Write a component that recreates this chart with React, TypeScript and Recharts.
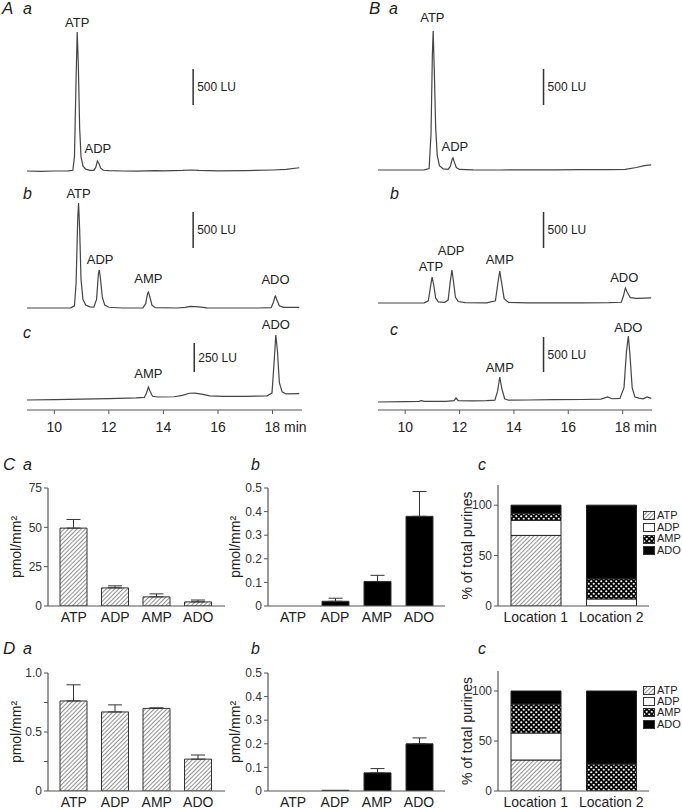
import React from 'react';
import { LineChart, Line, XAxis, YAxis, ReferenceLine, ReferenceDot, BarChart, Bar, ErrorBar } from 'recharts';

const FONT = '"Liberation Sans", Arial, sans-serif';
const INK = '#222';
const AXIS = '#555';

// chromatogram traces: [time (min), fluorescence (LU above baseline)]
const traceAa = [[9.0, 0], [9.5, -5], [10.0, 0], [10.5, 3], [10.68, 10], [10.74, 200], [10.8, 1300], [10.84, 1930], [10.88, 1500], [10.93, 600], [10.98, 200], [11.05, 70], [11.15, 25], [11.3, 10], [11.45, 8], [11.52, 50], [11.58, 139], [11.64, 100], [11.7, 40], [11.8, 10], [12.0, 5], [12.5, 0], [13.0, -3], [13.7, 5], [14.0, 2], [14.7, 8], [15.0, 14], [15.3, 8], [16.0, 3], [17.0, 6], [18.0, 14], [18.5, 22], [18.98, 45]];
const traceAb = [[9.0, 0], [10.0, 0], [10.6, 3], [10.74, 30], [10.8, 350], [10.86, 1250], [10.89, 1458], [10.93, 1100], [10.98, 400], [11.05, 120], [11.15, 40], [11.3, 15], [11.45, 12], [11.55, 120], [11.62, 480], [11.65, 528], [11.69, 420], [11.76, 150], [11.85, 40], [12.0, 10], [12.5, 0], [13.25, 2], [13.35, 60], [13.42, 200], [13.45, 222], [13.5, 160], [13.58, 40], [13.7, 5], [14.5, 0], [14.8, 10], [15.0, 22], [15.3, 15], [15.6, 3], [16.5, 0], [17.5, 0], [17.95, 5], [18.03, 80], [18.09, 160], [18.11, 167], [18.16, 110], [18.25, 30], [18.4, 8], [18.98, 10]];
const traceAc = [[9.0, 0], [10.0, 3], [11.0, 8], [12.0, 12], [13.0, 18], [13.3, 22], [13.38, 60], [13.45, 112], [13.52, 70], [13.6, 32], [13.8, 26], [14.4, 28], [14.7, 40], [14.95, 58], [15.15, 60], [15.4, 50], [15.7, 36], [16.2, 32], [17.0, 32], [17.8, 36], [17.98, 60], [18.05, 300], [18.12, 560], [18.18, 420], [18.25, 150], [18.35, 70], [18.5, 52], [18.98, 55]];
const traceBa = [[9.0, 0], [10.0, 0], [10.7, 3], [10.88, 20], [10.95, 500], [11.0, 1600], [11.03, 1930], [11.07, 1400], [11.12, 600], [11.18, 200], [11.26, 60], [11.4, 15], [11.58, 8], [11.66, 50], [11.73, 150], [11.76, 167], [11.8, 120], [11.88, 35], [12.0, 8], [12.5, 2], [13.5, 0], [14.5, 3], [15.5, 3], [16.5, 4], [17.5, 5], [18.1, 8], [18.5, 35], [18.8, 60], [19.05, 70]];
const traceBb = [[9.0, 0], [10.0, 0], [10.7, 3], [10.85, 30], [10.93, 220], [10.99, 361], [11.05, 250], [11.12, 70], [11.22, 15], [11.45, 10], [11.58, 40], [11.66, 300], [11.72, 458], [11.77, 320], [11.85, 80], [11.95, 20], [12.2, 5], [13.0, 3], [13.32, 30], [13.42, 300], [13.48, 444], [13.54, 300], [13.64, 60], [13.8, 8], [14.5, 3], [15.5, 3], [16.5, 3], [17.5, 5], [17.95, 10], [18.03, 100], [18.1, 208], [18.17, 150], [18.28, 75], [18.5, 65], [18.8, 68], [19.05, 70]];
const traceBc = [[9.0, 0], [10.0, 5], [10.5, 8], [10.6, 20], [10.7, 8], [11.5, 10], [11.8, 18], [11.87, 55], [11.95, 18], [12.5, 15], [13.0, 18], [13.3, 25], [13.4, 150], [13.48, 347], [13.56, 180], [13.66, 45], [13.8, 25], [14.5, 28], [15.5, 32], [16.5, 35], [17.2, 40], [17.45, 70], [17.6, 45], [17.9, 50], [18.05, 200], [18.14, 700], [18.21, 917], [18.27, 650], [18.35, 200], [18.45, 70], [18.6, 55], [18.75, 45], [18.9, 70], [19.05, 50]];

const timeTicks = [10, 12, 14, 16, 18];

// peak labels: [name, time, label height in LU]
const peaksAa = [['ATP', 10.84, 2069], ['ADP', 11.6, 319]];
const peaksAb = [['ATP', 10.89, 1597], ['ADP', 11.68, 681], ['AMP', 13.45, 417], ['ADO', 18.11, 403]];
const peaksAc = [['AMP', 13.45, 233], ['ADO', 18.12, 655]];
const peaksBa = [['ATP', 11.0, 2125], ['ADP', 11.83, 333]];
const peaksBb = [['ATP', 10.95, 514], ['ADP', 11.69, 736], ['AMP', 13.48, 611], ['ADO', 18.06, 361]];
const peaksBc = [['AMP', 13.48, 486], ['ADO', 18.21, 1042]];

// scale bars: [time, from LU, to LU, label]
const barAa = [15.09, 917, 1417, '500 LU'];
const barAb = [15.09, 833, 1333, '500 LU'];
const barAc = [15.13, 241, 491, '250 LU'];
const barBa = [15.09, 903, 1403, '500 LU'];
const barBb = [15.09, 764, 1264, '500 LU'];
const barBc = [15.09, 417, 903, '500 LU'];

// bar charts
const purines = ['ATP', 'ADP', 'AMP', 'ADO'];
const caValues = [49.5, 11.5, 5.8, 2.6];
const caErrors = [5.5, 1.3, 1.9, 1.2];
const cbValues = [0, 0.02, 0.104, 0.38];
const cbErrors = [null, 0.013, 0.026, 0.105];
const daValues = [0.763, 0.67, 0.70, 0.27];
const daErrors = [0.137, 0.06, 0.005, 0.035];
const dbValues = [0, 0.003, 0.077, 0.2];
const dbErrors = [null, null, 0.018, 0.025];

const locations = ['Location 1', 'Location 2'];
const ccATP = [70, 0];
const ccADP = [15, 7];
const ccAMP = [7, 20];
const ccADO = [8, 73];
const dcATP = [31, 0];
const dcADP = [27, 0];
const dcAMP = [29, 27];
const dcADO = [13, 73];

const purineFills = ['url(#hatch)', '#fff', 'url(#dots)', '#000'];

const TimeTick = (props: any) => {
  const { x, y, payload } = props;
  const last = payload.value === 18;
  return (
    <text x={last ? x - 8 : x} y={y + 16} textAnchor={last ? 'start' : 'middle'} fontSize={14} fill={INK}>
      {last ? '18 min' : payload.value}
    </text>
  );
};

function Trace({ data, peaks, bar, left, top, height, ml, mr, baseY, scale, axis }: any) {
  const axisH = axis ? 30 : 0;
  const plotH = height - axisH;
  const lo = -(top + plotH - baseY) / scale;
  const hi = lo + plotH / scale;
  const rows = data.map(([t, v]: number[]) => ({ t, v }));
  return (
    <div style={{ position: 'absolute', left, top }}>
      <LineChart width={341} height={height} data={rows} margin={{ top: 0, right: mr, bottom: 0, left: ml }}>
        <XAxis
          dataKey="t"
          type="number"
          domain={[9, 19.08]}
          allowDataOverflow
          ticks={timeTicks}
          interval={0}
          hide={!axis}
          height={axisH}
          tick={<TimeTick />}
          tickSize={4}
          axisLine={{ stroke: AXIS, strokeWidth: 1.2 }}
          tickLine={{ stroke: AXIS }}
        />
        <YAxis hide domain={[lo, hi]} allowDataOverflow />
        <Line type="linear" dataKey="v" stroke="#444" strokeWidth={1.2} dot={false} isAnimationActive={false} />
        <ReferenceLine
          segment={[{ x: bar[0], y: bar[1] }, { x: bar[0], y: bar[2] }]}
          stroke="#333"
          strokeWidth={1.5}
          ifOverflow="visible"
        />
        <ReferenceDot
          x={bar[0]}
          y={(bar[1] + bar[2]) / 2}
          r={0}
          fill="none"
          stroke="none"
          ifOverflow="visible"
          label={{ value: bar[3], position: 'right', offset: 4, fontSize: 12, fill: INK }}
        />
        {peaks.map((p: any) => (
          <ReferenceDot
            key={p[0]}
            x={p[1]}
            y={p[2]}
            r={0}
            fill="none"
            stroke="none"
            ifOverflow="visible"
            label={{ value: p[0], position: 'center', fontSize: 13, fill: INK }}
          />
        ))}
      </LineChart>
    </div>
  );
}

function PurineBars({ left, top, values, errors, fill, domain, ticks, fmt, labelX, padL, padR }: any) {
  const rows = purines.map((c, i) => ({ c, v: values[i], e: errors[i] == null ? null : [0, errors[i]] }));
  return (
    <div style={{ position: 'absolute', left, top }}>
      <BarChart width={235} height={158} data={rows} margin={{ top: 10, right: 10, bottom: 0, left: 0 }}>
        <XAxis
          dataKey="c"
          tickLine={false}
          axisLine={{ stroke: AXIS, strokeWidth: 1.2 }}
          tick={{ fontSize: 14, fill: INK }}
          tickSize={4}
          padding={{ left: padL, right: padR }}
          height={30}
          interval={0}
        />
        <YAxis
          width={48}
          domain={domain}
          ticks={ticks}
          interval={0}
          allowDataOverflow
          tickFormatter={fmt}
          tick={{ fontSize: 12, fill: '#333' }}
          tickSize={4}
          axisLine={{ stroke: AXIS, strokeWidth: 1.2 }}
          tickLine={{ stroke: AXIS }}
          label={{ value: 'pmol/mm²', angle: -90, position: 'insideLeft', offset: labelX, fontSize: 14, fill: INK, style: { textAnchor: 'middle' } }}
        />
        <Bar dataKey="v" fill={fill} stroke="#333" strokeWidth={1} barSize={27} isAnimationActive={false}>
          <ErrorBar dataKey="e" direction="y" width={7} stroke="#333" strokeWidth={1} />
        </Bar>
      </BarChart>
    </div>
  );
}

function PercentBars({ left, top, height, atp, adp, amp, ado }: any) {
  const rows = locations.map((c, i) => ({ c, atp: atp[i], adp: adp[i], amp: amp[i], ado: ado[i] }));
  const keys = ['atp', 'adp', 'amp', 'ado'];
  return (
    <div style={{ position: 'absolute', left, top }}>
      <BarChart width={232} height={height} data={rows} margin={{ top: 10, right: 33, bottom: 0, left: 0 }}>
        <XAxis
          dataKey="c"
          tickLine={false}
          axisLine={{ stroke: AXIS, strokeWidth: 1.2 }}
          tick={{ fontSize: 14, fill: INK }}
          tickSize={4}
          height={30}
          interval={0}
        />
        <YAxis
          width={48}
          domain={[0, 120]}
          ticks={[0, 50, 100]}
          interval={0}
          allowDataOverflow
          tick={{ fontSize: 12, fill: '#333' }}
          tickSize={4}
          axisLine={{ stroke: AXIS, strokeWidth: 1.2 }}
          tickLine={{ stroke: AXIS }}
          label={{ value: '% of total purines', angle: -90, position: 'insideLeft', offset: 17, fontSize: 14, fill: INK, style: { textAnchor: 'middle' } }}
        />
        {keys.map((k, i) => (
          <Bar key={k} dataKey={k} stackId="s" fill={purineFills[i]} stroke="#222" strokeWidth={1} barSize={50} isAnimationActive={false} />
        ))}
      </BarChart>
    </div>
  );
}

function PurineLegend({ left, top, step }: any) {
  return (
    <div style={{ position: 'absolute', left, top, fontSize: 11, color: INK }}>
      {purines.map((p, i) => (
        <div key={p} style={{ height: step, lineHeight: `${step}px`, display: 'flex', alignItems: 'center' }}>
          <svg width={12} height={9} style={{ marginRight: 2 }}>
            <rect x={0.5} y={0.5} width={11} height={8} fill={purineFills[i]} stroke="#333" strokeWidth={1} />
          </svg>
          {p}
        </div>
      ))}
    </div>
  );
}

const Letter = ({ x, y, children, big }: any) => (
  <div style={{ position: 'absolute', left: x, top: y, fontSize: big ? 17 : 16, fontStyle: 'italic', color: INK, lineHeight: 1 }}>
    {children}
  </div>
);

const d0 = (v: number) => (v === 0 ? '0' : v === 0.5 ? '0.5' : v === 1 ? '1.0' : '');

export default function App() {
  return (
    <div style={{ position: 'absolute', left: 0, top: 0, width: 682, height: 809, background: '#fff', fontFamily: FONT, overflow: 'hidden' }}>
      <svg width={0} height={0} style={{ position: 'absolute' }}>
        <defs>
          <pattern id="hatch" patternUnits="userSpaceOnUse" width={3} height={3} patternTransform="rotate(45)">
            <rect width={3} height={3} fill="#fff" />
            <line x1={0} y1={0} x2={0} y2={3} stroke="#555" strokeWidth={1.3} />
          </pattern>
          <pattern id="dots" patternUnits="userSpaceOnUse" width={5} height={5}>
            <rect width={5} height={5} fill="#000" />
            <circle cx={1.25} cy={1.25} r={1.1} fill="#fff" />
            <circle cx={3.75} cy={3.75} r={1.1} fill="#fff" />
          </pattern>
        </defs>
      </svg>

      <Trace data={traceAa} peaks={peaksAa} bar={barAa} left={0} top={0} height={180} ml={27} mr={39} baseY={171} scale={0.072} />
      <Trace data={traceAb} peaks={peaksAb} bar={barAb} left={0} top={180} height={135} ml={27} mr={39} baseY={308} scale={0.072} />
      <Trace data={traceAc} peaks={peaksAc} bar={barAc} left={0} top={315} height={125} ml={27} mr={39} baseY={400} scale={0.116} axis />
      <Trace data={traceBa} peaks={peaksBa} bar={barBa} left={341} top={0} height={180} ml={37} mr={30} baseY={170} scale={0.072} />
      <Trace data={traceBb} peaks={peaksBb} bar={barBb} left={341} top={180} height={135} ml={37} mr={30} baseY={303} scale={0.072} />
      <Trace data={traceBc} peaks={peaksBc} bar={barBc} left={341} top={315} height={125} ml={37} mr={30} baseY={402} scale={0.072} axis />

      <PurineBars left={0} top={478} values={caValues} errors={caErrors} fill="url(#hatch)" domain={[0, 75]} ticks={[0, 25, 50, 75]} labelX={16} padL={5} padR={6} />
      <PurineBars left={220} top={478} values={cbValues} errors={cbErrors} fill="#000" domain={[0, 0.5]} ticks={[0, 0.1, 0.2, 0.3, 0.4, 0.5]} labelX={15} padL={4} padR={5} />
      <PercentBars left={450} top={475} height={161} atp={ccATP} adp={ccADP} amp={ccAMP} ado={ccADO} />
      <PurineLegend left={643} top={510} step={11.7} />

      <PurineBars left={0} top={663} values={daValues} errors={daErrors} fill="url(#hatch)" domain={[0, 1]} ticks={[0, 0.25, 0.5, 0.75, 1]} fmt={d0} labelX={16} padL={5} padR={6} />
      <PurineBars left={220} top={663} values={dbValues} errors={dbErrors} fill="#000" domain={[0, 0.5]} ticks={[0, 0.1, 0.2, 0.3, 0.4, 0.5]} labelX={15} padL={4} padR={5} />
      <PercentBars left={450} top={661} height={160} atp={dcATP} adp={dcADP} amp={dcAMP} ado={dcADO} />
      <PurineLegend left={643} top={685} step={11.2} />

      <Letter x={2} y={0} big>A</Letter>
      <Letter x={23} y={1}>a</Letter>
      <Letter x={369} y={0} big>B</Letter>
      <Letter x={389} y={1}>a</Letter>
      <Letter x={23} y={186}>b</Letter>
      <Letter x={390} y={186}>b</Letter>
      <Letter x={23} y={325}>c</Letter>
      <Letter x={390} y={322}>c</Letter>
      <Letter x={3} y={456} big>C</Letter>
      <Letter x={23} y={457}>a</Letter>
      <Letter x={251} y={457}>b</Letter>
      <Letter x={478} y={457}>c</Letter>
      <Letter x={3} y={640} big>D</Letter>
      <Letter x={23} y={641}>a</Letter>
      <Letter x={251} y={641}>b</Letter>
      <Letter x={478} y={641}>c</Letter>
    </div>
  );
}
